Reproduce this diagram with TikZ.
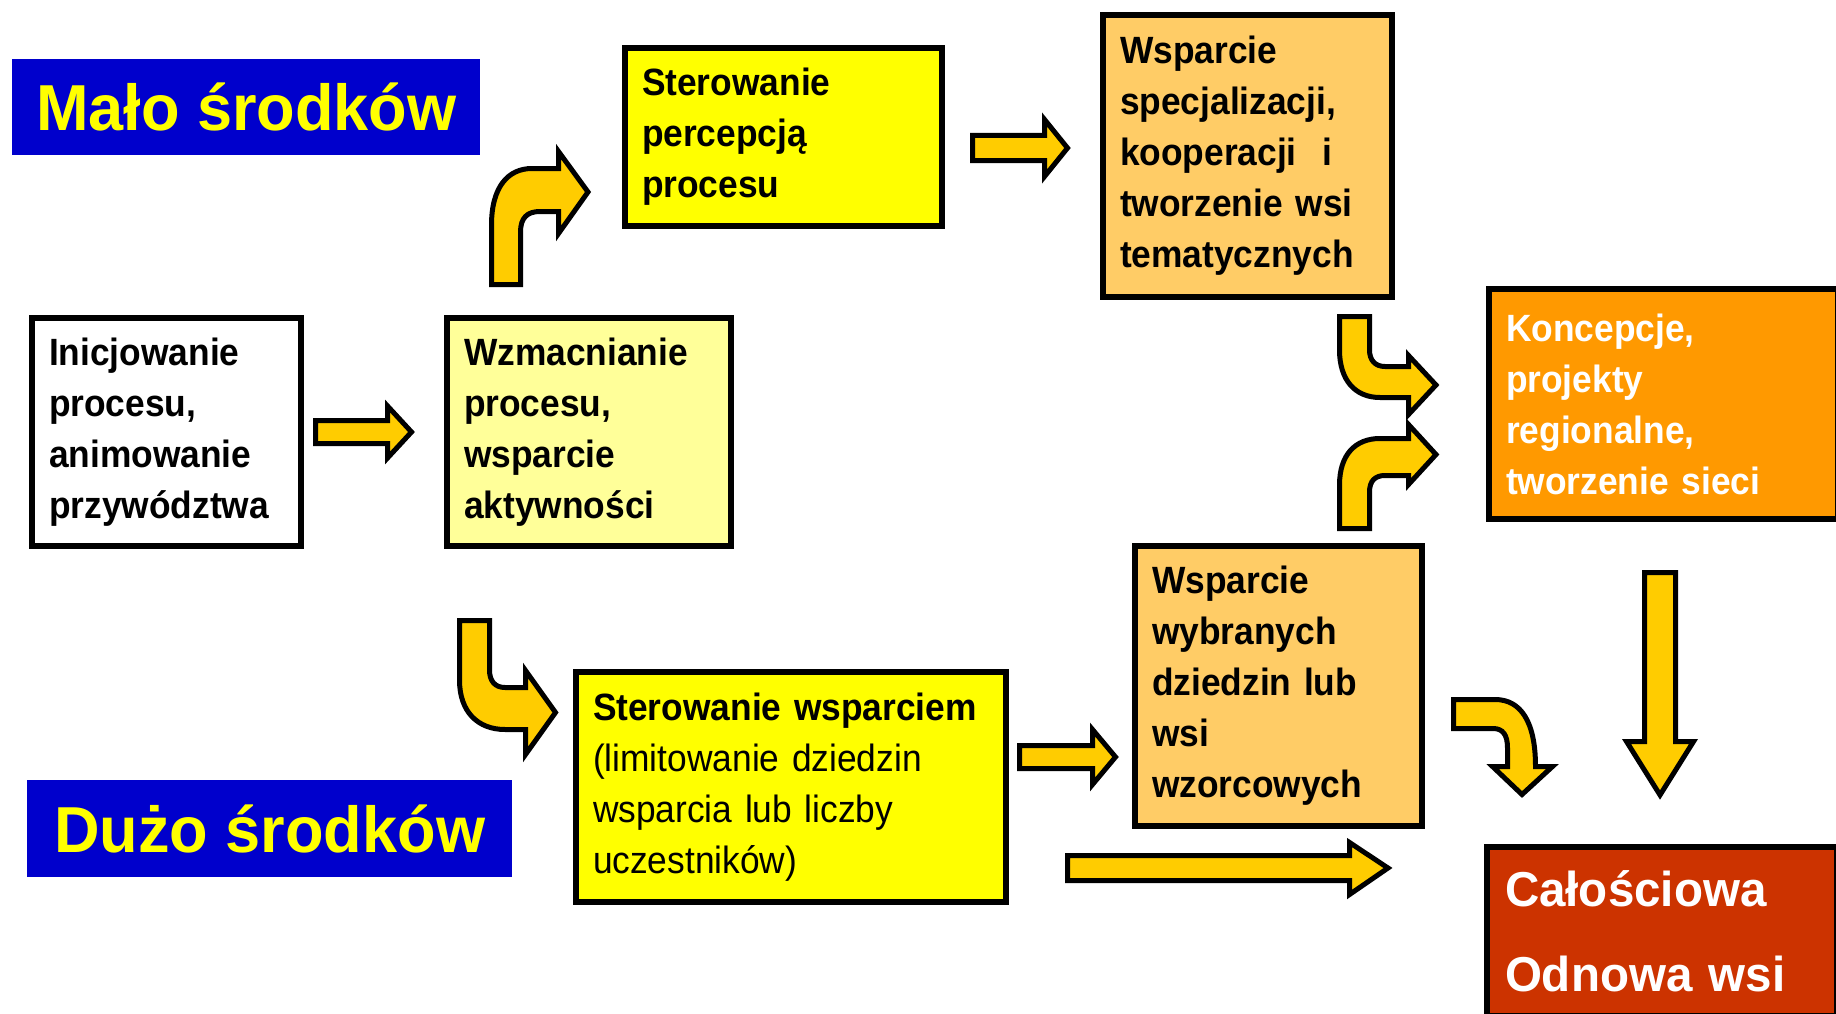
\documentclass[tikz,border=0pt]{standalone}
\usepackage{fontspec}
\setmainfont[FakeStretch=0.93]{Liberation Sans}
\newfontfamily\bigf[FakeStretch=0.97]{Liberation Sans}
\definecolor{blueC}{HTML}{0000CC}
\definecolor{yellowT}{HTML}{FFFF00}
\definecolor{lightY}{HTML}{FFFF99}
\definecolor{yelC}{HTML}{FFFF00}
\definecolor{peach}{HTML}{FFCC66}
\definecolor{orangeC}{HTML}{FF9900}
\definecolor{redC}{HTML}{CC3300}
\definecolor{arrowF}{HTML}{FFCC00}
\begin{document}
\begin{tikzpicture}[x=1pt,y=-1pt,
  box/.style={draw=black, line width=6pt, rectangle, anchor=north west,
    inner xsep=17pt, inner ysep=0pt, align=left,
    font=\fontsize{38}{51}\selectfont\bfseries},
  blk/.style={fill=arrowF, draw=black, line width=5pt, line join=miter, miter limit=10},
  lab/.style={fill=blueC, text=yellowT, anchor=north west, inner sep=0pt,
    font=\bigf\fontsize{65}{70}\selectfont\bfseries}]
\useasboundingbox (0,0) rectangle (1836,1014);

% labels
\node[lab, minimum width=468pt, minimum height=96pt] (malo) at (12,59) {Mało środków};
\node[lab, minimum width=485pt, minimum height=97pt] (duzo) at (27,780) {Dużo środków};

% boxes
\node[box, fill=white, minimum width=269pt, minimum height=228pt, text width=235pt] (inic) at (29,315)
  {Inicjowanie\\procesu,\\animowanie\\przywództwa};
\node[box, fill=lightY, minimum width=284pt, minimum height=228pt, text width=250pt] (wzm) at (444,315)
  {Wzmacnianie\\procesu,\\wsparcie\\aktywności};
\node[box, fill=yelC, minimum width=317pt, minimum height=178pt, text width=283pt] (sterperc) at (622,45)
  {Sterowanie\\percepcją\\procesu};
\node[box, fill=peach, minimum width=289pt, minimum height=282pt, text width=255pt] (wspspec) at (1100,12)
  {Wsparcie\\specjalizacji,\\kooperacji\ \ i\\tworzenie wsi\\tematycznych};
\node[box, fill=orangeC, text=white, minimum width=349pt, minimum height=230pt, text width=315pt] (konc) at (1486,286)
  {Koncepcje,\\projekty\\regionalne,\\tworzenie sieci};
\node[box, fill=yelC, minimum width=430pt, minimum height=230pt, text width=396pt,
  font=\fontsize{38}{51}\selectfont] (sterwsp) at (573,669)
  {\textbf{Sterowanie wsparciem}\\(limitowanie dziedzin\\wsparcia lub liczby\\uczestników)};
\node[box, fill=peach, minimum width=287pt, minimum height=280pt, text width=253pt] (wybr) at (1132,543)
  {Wsparcie\\wybranych\\dziedzin lub\\wsi\\wzorcowych};
\node[box, fill=redC, text=white, inner xsep=18pt, minimum width=350pt, minimum height=169pt, text width=314pt,
  font=\bigf\fontsize{49}{85}\selectfont\bfseries] (calosc) at (1484,844)
  {Całościowa\\Odnowa wsi};

% straight block arrows
\draw[blk] (315.5,420.5) -- (387.5,420.5) -- (387.5,406) -- (411.5,432) -- (387.5,458) -- (387.5,443.5) -- (315.5,443.5) -- cycle;
\draw[blk] (972.5,135.5) -- (1044.5,135.5) -- (1044.5,119.5) -- (1067.5,148) -- (1044.5,176.5) -- (1044.5,160.5) -- (972.5,160.5) -- cycle;
\draw[blk] (1019.5,745.5) -- (1092.5,745.5) -- (1092.5,729.5) -- (1115.5,757) -- (1092.5,784.5) -- (1092.5,768.5) -- (1019.5,768.5) -- cycle;
\draw[blk] (1067.5,855.5) -- (1349.5,855.5) -- (1349.5,842.5) -- (1388,868) -- (1349.5,894.5) -- (1349.5,880.5) -- (1067.5,880.5) -- cycle;
\draw[blk] (1644.5,572.5) -- (1675.5,572.5) -- (1675.5,741.5) -- (1693.5,741.5) -- (1660,795) -- (1626.5,741.5) -- (1644.5,741.5) -- cycle;

% curved block arrows
% Wzmacnianie -> Sterowanie percepcja (up, right)
\draw[blk] (491.5,284.5) -- (491.5,225) .. controls (491.5,187) and (508,168.5) .. (532,168.5) -- (558.5,168.5) -- (558.5,151.5) -- (588,192) -- (558.5,233.5) -- (558.5,211.5) -- (540,211.5) .. controls (527,211.5) and (520.5,218) .. (520.5,232) -- (520.5,284.5) -- cycle;
% Wzmacnianie -> Sterowanie wsparciem (down, right)
\draw[blk] (459.5,620.5) -- (459.5,680) .. controls (459.5,712) and (478,729.5) .. (505,729.5) -- (525.5,729.5) -- (525.5,754.5) -- (555.5,712.5) -- (525.5,670.5) -- (525.5,687.5) -- (505,687.5) .. controls (495,687.5) and (489.5,681) .. (489.5,670) -- (489.5,620.5) -- cycle;
% Wsparcie specjalizacji -> Koncepcje (down, right)
\draw[blk] (1339.5,316.5) -- (1339.5,350) .. controls (1339.5,380) and (1355,397.5) .. (1380,397.5) -- (1408.5,397.5) -- (1408.5,414.5) -- (1436,385) -- (1408.5,355.5) -- (1408.5,366.5) -- (1385,366.5) .. controls (1375,366.5) and (1369.5,360) .. (1369.5,350) -- (1369.5,316.5) -- cycle;
% Wsparcie wybranych -> Koncepcje (up, right)
\draw[blk] (1339.5,528.5) -- (1339.5,485) .. controls (1339.5,455) and (1355,438.5) .. (1380,438.5) -- (1408.5,438.5) -- (1408.5,424.5) -- (1436,454.5) -- (1408.5,484.5) -- (1408.5,475.5) -- (1385,475.5) .. controls (1375,475.5) and (1369.5,481) .. (1369.5,492) -- (1369.5,528.5) -- cycle;
% Wsparcie wybranych -> Calosciowa (right, down)
\draw[blk] (1453.5,699.5) -- (1495,699.5) .. controls (1521,699.5) and (1535.5,722) .. (1535.5,766.5) -- (1552.5,766.5) -- (1522,794.5) -- (1492.5,766.5) -- (1507.5,766.5) -- (1507.5,748) .. controls (1507.5,735) and (1503,728.5) .. (1493,728.5) -- (1453.5,728.5) -- cycle;
\end{tikzpicture}
\end{document}
